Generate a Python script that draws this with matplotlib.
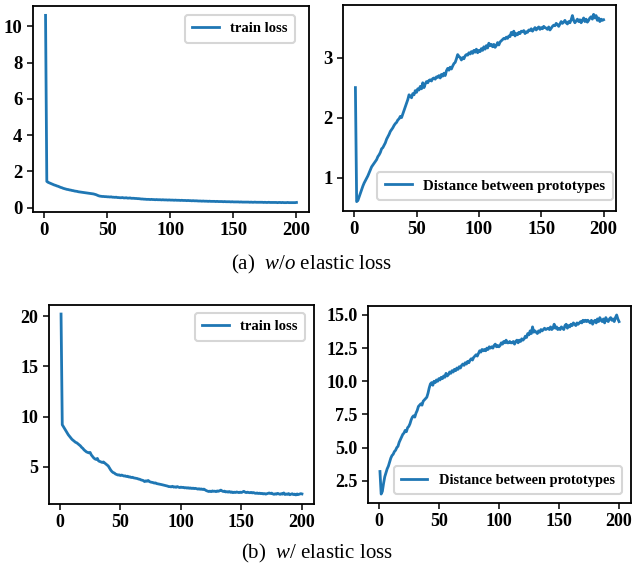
import matplotlib
matplotlib.use("Agg")
import matplotlib.pyplot as plt

plt.rcParams["font.family"] = "Liberation Serif"
plt.rcParams["mathtext.fontset"] = "custom"
plt.rcParams["mathtext.rm"] = "Liberation Serif"
plt.rcParams["mathtext.it"] = "Liberation Serif:italic"

epochs = list(range(1, 201))

# (a) w/o elastic loss
loss_wo = [
    10.6, 1.45, 1.40, 1.37, 1.34, 1.31, 1.28, 1.25, 1.23, 1.20,
    1.18, 1.15, 1.12, 1.10, 1.07, 1.05, 1.03, 1.01, 1.00, 0.98,
    0.97, 0.95, 0.94, 0.92, 0.91, 0.90, 0.88, 0.87, 0.86, 0.85,
    0.84, 0.83, 0.82, 0.81, 0.80, 0.79, 0.78, 0.77, 0.76, 0.74,
    0.72, 0.69, 0.66, 0.64, 0.63, 0.62, 0.62, 0.61, 0.61, 0.60,
    0.60, 0.59, 0.60, 0.58, 0.58, 0.57, 0.58, 0.56, 0.56, 0.55,
    0.55, 0.56, 0.54, 0.54, 0.55, 0.53, 0.53, 0.54, 0.52, 0.52,
    0.52, 0.51, 0.51, 0.50, 0.50, 0.49, 0.48, 0.48, 0.47, 0.47,
    0.46, 0.46, 0.46, 0.45, 0.46, 0.45, 0.45, 0.44, 0.45, 0.44,
    0.44, 0.44, 0.43, 0.44, 0.43, 0.43, 0.43, 0.42, 0.43, 0.42,
    0.42, 0.42, 0.41, 0.42, 0.41, 0.41, 0.41, 0.40, 0.41, 0.40,
    0.40, 0.40, 0.39, 0.40, 0.39, 0.39, 0.38, 0.39, 0.38, 0.38,
    0.38, 0.37, 0.37, 0.37, 0.36, 0.37, 0.36, 0.36, 0.36, 0.35,
    0.36, 0.35, 0.35, 0.35, 0.35, 0.34, 0.35, 0.34, 0.34, 0.34,
    0.34, 0.33, 0.34, 0.33, 0.33, 0.33, 0.33, 0.32, 0.33, 0.32,
    0.32, 0.32, 0.32, 0.32, 0.31, 0.32, 0.31, 0.31, 0.31, 0.31,
    0.31, 0.31, 0.30, 0.31, 0.30, 0.30, 0.31, 0.30, 0.30, 0.30,
    0.30, 0.30, 0.30, 0.29, 0.30, 0.29, 0.29, 0.30, 0.29, 0.29,
    0.29, 0.29, 0.29, 0.29, 0.28, 0.29, 0.29, 0.28, 0.29, 0.28,
    0.28, 0.28, 0.29, 0.28, 0.28, 0.28, 0.28, 0.28, 0.28, 0.29,
]

dist_wo = [
    2.50, 0.60, 0.62, 0.68, 0.74, 0.80, 0.86, 0.91, 0.95, 0.99,
    1.03, 1.08, 1.13, 1.18, 1.21, 1.24, 1.27, 1.30, 1.35, 1.38,
    1.42, 1.48, 1.50, 1.54, 1.58, 1.64, 1.68, 1.72, 1.77, 1.80,
    1.83, 1.87, 1.90, 1.92, 1.96, 1.98, 2.02, 2.00, 2.06, 2.12,
    2.18, 2.24, 2.30, 2.38, 2.36, 2.33, 2.40, 2.38, 2.45, 2.42,
    2.48, 2.46, 2.52, 2.48, 2.58, 2.50, 2.56, 2.60, 2.58, 2.62,
    2.63, 2.61, 2.65, 2.66, 2.64, 2.68, 2.67, 2.70, 2.66, 2.72,
    2.69, 2.74, 2.70, 2.78, 2.82, 2.79, 2.84, 2.81, 2.86, 2.90,
    2.92, 2.98, 3.05, 3.02, 3.00, 2.96, 3.00, 2.98, 3.03, 3.05,
    3.04, 3.08, 3.06, 3.10, 3.07, 3.12, 3.09, 3.14, 3.08, 3.12,
    3.10, 3.15, 3.12, 3.18, 3.14, 3.20, 3.16, 3.24, 3.20, 3.22,
    3.18, 3.22, 3.17, 3.20, 3.25, 3.21, 3.26, 3.28, 3.30, 3.32,
    3.31, 3.34, 3.32, 3.36, 3.35, 3.42, 3.38, 3.44, 3.36, 3.40,
    3.38, 3.42, 3.40, 3.44, 3.43, 3.45, 3.40, 3.43, 3.42, 3.46,
    3.45, 3.48, 3.44, 3.47, 3.50, 3.46, 3.49, 3.51, 3.47, 3.50,
    3.48, 3.52, 3.50, 3.49, 3.47, 3.51, 3.46, 3.49, 3.52, 3.54,
    3.53, 3.57, 3.55, 3.52, 3.56, 3.60, 3.57, 3.59, 3.62, 3.58,
    3.56, 3.60, 3.58, 3.63, 3.70, 3.62, 3.58, 3.61, 3.64, 3.60,
    3.63, 3.58, 3.62, 3.66, 3.60, 3.64, 3.59, 3.62, 3.66, 3.68,
    3.64, 3.72, 3.66, 3.70, 3.62, 3.66, 3.60, 3.64, 3.62, 3.63,
]

# (b) w/ elastic loss
loss_w = [
    20.2, 9.20, 9.00, 8.80, 8.60, 8.40, 8.20, 8.05, 7.90, 7.75,
    7.65, 7.55, 7.45, 7.40, 7.30, 7.20, 7.10, 6.95, 6.85, 6.70,
    6.60, 6.50, 6.45, 6.40, 6.45, 6.20, 6.05, 5.90, 5.80, 5.75,
    5.85, 5.60, 5.55, 5.50, 5.45, 5.50, 5.40, 5.30, 5.20, 5.10,
    4.90, 4.70, 4.55, 4.45, 4.40, 4.30, 4.25, 4.20, 4.22, 4.15,
    4.20, 4.15, 4.10, 4.12, 4.05, 4.08, 4.00, 4.02, 3.95, 3.98,
    3.92, 3.90, 3.88, 3.85, 3.80, 3.78, 3.72, 3.68, 3.65, 3.55,
    3.62, 3.58, 3.66, 3.55, 3.50, 3.48, 3.45, 3.40, 3.42, 3.35,
    3.32, 3.30, 3.28, 3.25, 3.22, 3.20, 3.15, 3.12, 3.10, 3.05,
    3.05, 3.02, 3.08, 3.00, 3.03, 2.98, 3.05, 3.00, 2.95, 3.00,
    2.96, 2.98, 2.92, 2.95, 2.90, 2.94, 2.88, 2.92, 2.86, 2.90,
    2.85, 2.88, 2.84, 2.80, 2.84, 2.78, 2.82, 2.76, 2.80, 2.72,
    2.65, 2.60, 2.56, 2.60, 2.55, 2.62, 2.58, 2.60, 2.55, 2.62,
    2.58, 2.64, 2.70, 2.62, 2.56, 2.60, 2.52, 2.55, 2.50, 2.56,
    2.48, 2.52, 2.45, 2.50, 2.46, 2.52, 2.48, 2.45, 2.50, 2.46,
    2.52, 2.58, 2.50, 2.45, 2.50, 2.46, 2.44, 2.48, 2.42, 2.46,
    2.40, 2.38, 2.42, 2.36, 2.40, 2.35, 2.38, 2.32, 2.36, 2.30,
    2.34, 2.38, 2.42, 2.36, 2.40, 2.32, 2.28, 2.34, 2.30, 2.38,
    2.32, 2.28, 2.35, 2.30, 2.42, 2.26, 2.32, 2.28, 2.36, 2.24,
    2.30, 2.34, 2.26, 2.30, 2.22, 2.32, 2.26, 2.30, 2.35, 2.32,
]

dist_w = [
    3.20, 1.50, 1.70, 2.30, 2.80, 3.10, 3.40, 3.60, 3.90, 4.20,
    4.40, 4.50, 4.70, 4.80, 5.00, 5.10, 5.40, 5.60, 5.80, 6.00,
    6.10, 6.30, 6.20, 6.50, 6.60, 6.80, 7.10, 7.30, 7.40, 7.30,
    7.60, 7.80, 8.10, 8.20, 8.30, 8.20, 8.50, 8.60, 8.70, 8.80,
    9.10, 9.50, 9.80, 9.90, 9.70, 10.00, 9.90, 10.10, 10.00, 10.20,
    10.10, 10.30, 10.20, 10.40, 10.30, 10.60, 10.40, 10.50, 10.70, 10.60,
    10.80, 10.70, 10.90, 10.80, 11.00, 10.90, 11.10, 11.00, 11.20, 11.30,
    11.20, 11.40, 11.30, 11.50, 11.40, 11.60, 11.70, 11.60, 11.80, 11.90,
    12.00, 11.90, 12.10, 12.30, 12.20, 12.40, 12.30, 12.40, 12.30, 12.50,
    12.40, 12.60, 12.50, 12.60, 12.50, 12.70, 12.80, 12.60, 12.70, 12.60,
    12.70, 12.90, 12.80, 13.00, 12.90, 13.10, 12.90, 12.90, 13.00, 12.90,
    12.90, 13.00, 12.80, 13.00, 13.10, 12.90, 13.10, 13.00, 13.20, 13.10,
    13.20, 13.40, 13.30, 13.60, 13.50, 13.80, 13.60, 14.10, 13.70, 13.80,
    13.70, 13.60, 13.80, 13.70, 13.90, 13.80, 13.90, 14.00, 13.90, 13.95,
    14.00, 13.90, 14.10, 13.90, 14.00, 14.30, 14.00, 14.10, 13.90, 14.00,
    13.90, 14.10, 14.00, 13.90, 14.20, 14.30, 14.00, 14.20, 14.10, 14.30,
    14.20, 14.40, 14.30, 14.20, 14.40, 14.30, 14.40, 14.50, 14.40, 14.60,
    14.50, 14.60, 14.50, 14.60, 14.50, 14.40, 14.60, 14.30, 14.50, 14.60,
    14.40, 14.70, 14.50, 14.80, 14.60, 14.50, 14.70, 14.40, 14.80, 14.60,
    14.50, 14.70, 14.80, 14.60, 14.70, 14.50, 14.80, 15.00, 14.70, 14.50,
]

W, H = 639, 564


def make_ax(fig, left, top, right, bottom):
    return fig.add_axes([left / W, 1 - bottom / H, (right - left) / W, (bottom - top) / H])


def style(ax, y, label, loc, anchor, fs_tick, fs_leg, yticks):
    ax.plot(epochs, y, color="#1f77b4", lw=2.0, label=label)
    ax.set_yticks(yticks)
    ax.set_xticks([0, 50, 100, 150, 200])
    for s in ax.spines.values():
        s.set_linewidth(1.3)
    ax.tick_params(direction="out", length=4, width=1.1, labelsize=fs_tick)
    for t in ax.get_xticklabels() + ax.get_yticklabels():
        t.set_fontweight("bold")
    leg = ax.legend(loc=loc, prop={"weight": "bold", "size": fs_leg},
                    handlelength=1.8, borderpad=0.5, borderaxespad=0,
                    bbox_to_anchor=(anchor[0] / W, 1 - anchor[1] / H),
                    bbox_transform=fig.transFigure)
    leg.get_frame().set_linewidth(1.5)


fig = plt.figure(figsize=(W / 100, H / 100), dpi=100)

ax1 = make_ax(fig, 33, 6, 309, 212)
style(ax1, loss_wo, "train loss", "upper right", (295, 15), 13.5, 10.5,
      [0, 2, 4, 6, 8, 10])

ax2 = make_ax(fig, 343, 5, 616, 211)
style(ax2, dist_wo, "Distance between prototypes", "lower right", (613, 200), 13.5, 10.7,
      [1, 2, 3])

ax3 = make_ax(fig, 49, 305, 314, 504)
style(ax3, loss_w, "train loss", "upper right", (305, 313), 13, 10.5,
      [5, 10, 15, 20])

ax4 = make_ax(fig, 368, 306, 631, 503)
style(ax4, dist_w, "Distance between prototypes", "lower right", (622, 494), 13, 10.4,
      [2.5, 5.0, 7.5, 10.0, 12.5, 15.0])

fig.text(312 / W, 1 - 264 / H, r"(a)  $\mathit{w/o}$ elastic loss",
         ha="center", va="center", fontsize=15)
fig.text(317 / W, 1 - 553 / H, r"(b)  $\mathit{w/}$ elastic loss",
         ha="center", va="center", fontsize=15)

fig.savefig("out.png", dpi=100)
